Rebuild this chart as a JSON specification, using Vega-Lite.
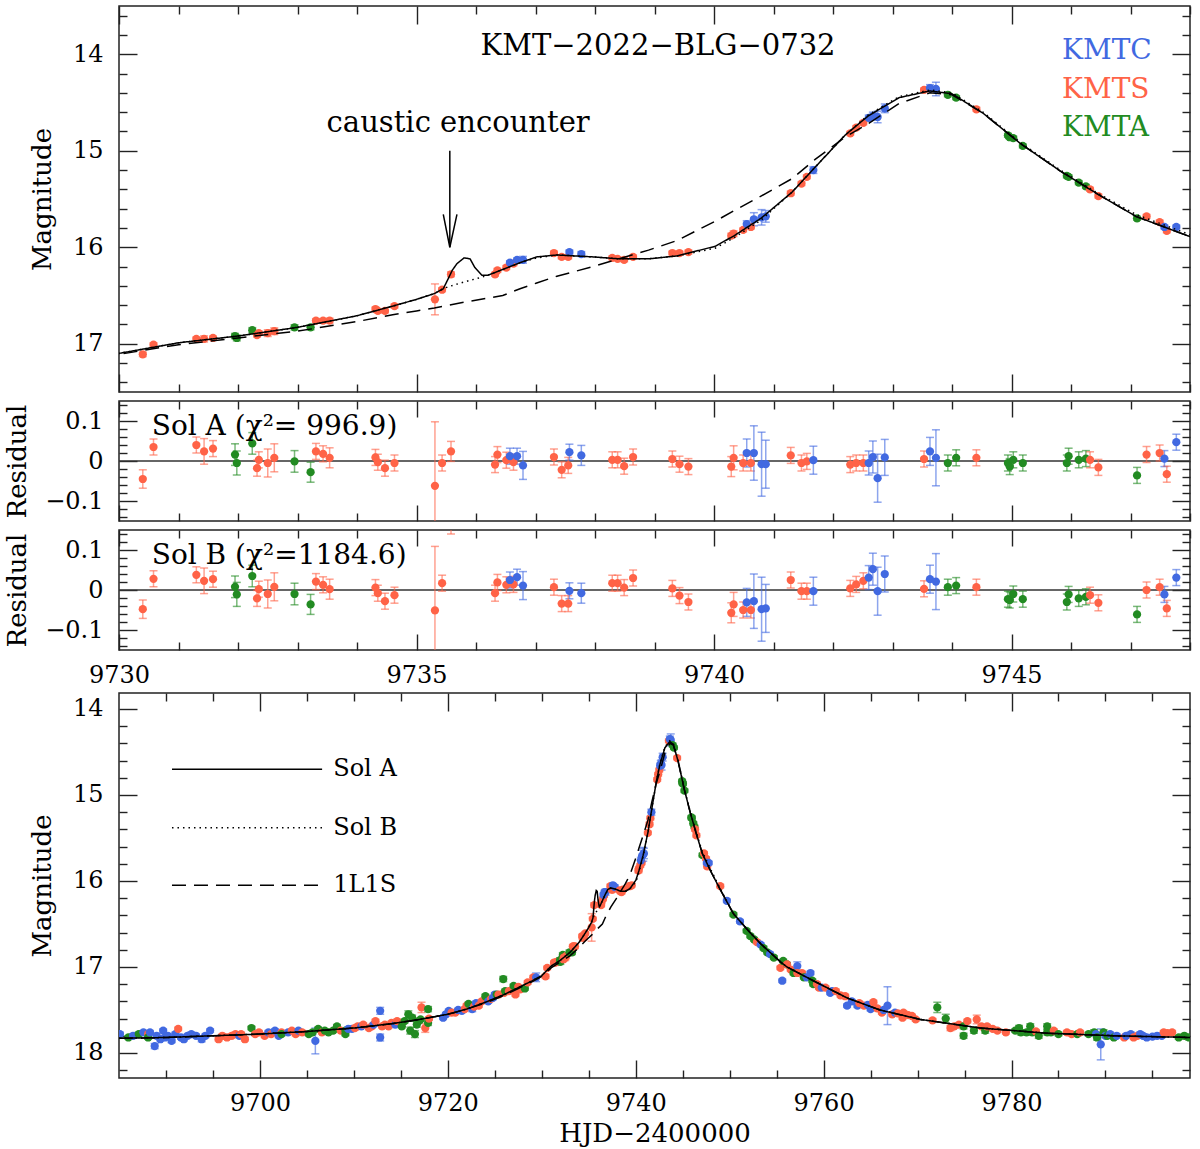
{
  "$schema": "https://vega.github.io/schema/vega-lite/v6.json",
  "background": "white",
  "padding": {"left": 3, "top": 2, "right": 10, "bottom": 0},
  "spacing": 9,
  "bounds": "flush",
  "datasets": {
    "obs": [
      {"t": 9730.40, "mag": 17.11, "err": 0.023, "tel": "KMTS", "rA": -0.045, "rB": -0.048},
      {"t": 9730.58, "mag": 17.01, "err": 0.02, "tel": "KMTS", "rA": 0.035, "rB": 0.028},
      {"t": 9731.30, "mag": 16.95, "err": 0.02, "tel": "KMTS", "rA": 0.040, "rB": 0.038},
      {"t": 9731.43, "mag": 16.95, "err": 0.032, "tel": "KMTS", "rA": 0.024, "rB": 0.023},
      {"t": 9731.58, "mag": 16.94, "err": 0.02, "tel": "KMTS", "rA": 0.031, "rB": 0.027},
      {"t": 9731.95, "mag": 16.92, "err": 0.027, "tel": "KMTA", "rA": 0.016, "rB": 0.008},
      {"t": 9731.98, "mag": 16.94, "err": 0.03, "tel": "KMTA", "rA": -0.005, "rB": -0.011},
      {"t": 9732.24, "mag": 16.86, "err": 0.027, "tel": "KMTA", "rA": 0.044, "rB": 0.035},
      {"t": 9732.32, "mag": 16.91, "err": 0.02, "tel": "KMTS", "rA": -0.018, "rB": -0.021},
      {"t": 9732.35, "mag": 16.89, "err": 0.02, "tel": "KMTS", "rA": 0.003, "rB": 0.002},
      {"t": 9732.50, "mag": 16.89, "err": 0.035, "tel": "KMTS", "rA": -0.005, "rB": -0.010},
      {"t": 9732.61, "mag": 16.87, "err": 0.035, "tel": "KMTS", "rA": 0.008, "rB": 0.008},
      {"t": 9732.95, "mag": 16.83, "err": 0.027, "tel": "KMTA", "rA": -0.001, "rB": -0.010},
      {"t": 9733.22, "mag": 16.83, "err": 0.025, "tel": "KMTA", "rA": -0.028, "rB": -0.036},
      {"t": 9733.31, "mag": 16.76, "err": 0.02, "tel": "KMTS", "rA": 0.024, "rB": 0.021},
      {"t": 9733.43, "mag": 16.76, "err": 0.02, "tel": "KMTS", "rA": 0.018, "rB": 0.013},
      {"t": 9733.54, "mag": 16.76, "err": 0.025, "tel": "KMTS", "rA": 0.008, "rB": 0.002},
      {"t": 9734.31, "mag": 16.64, "err": 0.02, "tel": "KMTS", "rA": 0.009, "rB": 0.006},
      {"t": 9734.35, "mag": 16.66, "err": 0.02, "tel": "KMTS", "rA": -0.003, "rB": -0.008},
      {"t": 9734.47, "mag": 16.66, "err": 0.02, "tel": "KMTS", "rA": -0.018, "rB": -0.028},
      {"t": 9734.63, "mag": 16.61, "err": 0.02, "tel": "KMTS", "rA": -0.005, "rB": -0.013},
      {"t": 9735.31, "mag": 16.54, "err": 0.16, "tel": "KMTS", "rA": -0.062, "rB": -0.051},
      {"t": 9735.43, "mag": 16.44, "err": 0.02, "tel": "KMTS", "rA": -0.005, "rB": 0.017},
      {"t": 9735.58, "mag": 16.28, "err": 0.025, "tel": "KMTS", "rA": 0.024, "rB": 0.165},
      {"t": 9736.32, "mag": 16.28, "err": 0.02, "tel": "KMTS", "rA": -0.009, "rB": -0.008},
      {"t": 9736.36, "mag": 16.24, "err": 0.02, "tel": "KMTS", "rA": 0.016, "rB": 0.019},
      {"t": 9736.51, "mag": 16.21, "err": 0.02, "tel": "KMTS", "rA": 0.002, "rB": 0.013},
      {"t": 9736.63, "mag": 16.17, "err": 0.02, "tel": "KMTS", "rA": -0.003, "rB": 0.014},
      {"t": 9736.57, "mag": 16.16, "err": 0.02, "tel": "KMTC", "rA": 0.012, "rB": 0.025},
      {"t": 9736.69, "mag": 16.13, "err": 0.02, "tel": "KMTC", "rA": 0.012, "rB": 0.032},
      {"t": 9736.79, "mag": 16.13, "err": 0.035, "tel": "KMTC", "rA": -0.011, "rB": 0.011},
      {"t": 9737.31, "mag": 16.06, "err": 0.02, "tel": "KMTS", "rA": 0.010, "rB": 0.007},
      {"t": 9737.44, "mag": 16.10, "err": 0.02, "tel": "KMTS", "rA": -0.022, "rB": -0.034},
      {"t": 9737.55, "mag": 16.10, "err": 0.02, "tel": "KMTS", "rA": -0.011, "rB": -0.034},
      {"t": 9737.57, "mag": 16.05, "err": 0.02, "tel": "KMTC", "rA": 0.022, "rB": -0.002},
      {"t": 9737.77, "mag": 16.07, "err": 0.025, "tel": "KMTC", "rA": 0.014, "rB": -0.008},
      {"t": 9738.29, "mag": 16.11, "err": 0.02, "tel": "KMTS", "rA": 0.003, "rB": 0.017},
      {"t": 9738.38, "mag": 16.12, "err": 0.02, "tel": "KMTS", "rA": 0.003, "rB": 0.017},
      {"t": 9738.49, "mag": 16.13, "err": 0.02, "tel": "KMTS", "rA": -0.013, "rB": 0.006},
      {"t": 9738.64, "mag": 16.10, "err": 0.02, "tel": "KMTS", "rA": 0.010, "rB": 0.030},
      {"t": 9739.30, "mag": 16.06, "err": 0.02, "tel": "KMTS", "rA": 0.005, "rB": 0.004},
      {"t": 9739.42, "mag": 16.06, "err": 0.02, "tel": "KMTS", "rA": -0.008, "rB": -0.014},
      {"t": 9739.57, "mag": 16.05, "err": 0.02, "tel": "KMTS", "rA": -0.014, "rB": -0.030},
      {"t": 9740.29, "mag": 15.88, "err": 0.025, "tel": "KMTS", "rA": -0.014, "rB": -0.057},
      {"t": 9740.33, "mag": 15.86, "err": 0.03, "tel": "KMTS", "rA": 0.008, "rB": -0.036},
      {"t": 9740.49, "mag": 15.82, "err": 0.02, "tel": "KMTS", "rA": -0.005, "rB": -0.050},
      {"t": 9740.62, "mag": 15.79, "err": 0.02, "tel": "KMTS", "rA": -0.005, "rB": -0.050},
      {"t": 9740.55, "mag": 15.76, "err": 0.035, "tel": "KMTC", "rA": 0.020, "rB": -0.031},
      {"t": 9740.67, "mag": 15.71, "err": 0.068, "tel": "KMTC", "rA": 0.020, "rB": -0.028},
      {"t": 9740.80, "mag": 15.69, "err": 0.08, "tel": "KMTC", "rA": -0.008, "rB": -0.048},
      {"t": 9740.87, "mag": 15.68, "err": 0.06, "tel": "KMTC", "rA": -0.008, "rB": -0.046},
      {"t": 9741.29, "mag": 15.44, "err": 0.02, "tel": "KMTS", "rA": 0.014, "rB": 0.025},
      {"t": 9741.47, "mag": 15.34, "err": 0.02, "tel": "KMTS", "rA": -0.005, "rB": -0.003},
      {"t": 9741.56, "mag": 15.27, "err": 0.02, "tel": "KMTS", "rA": -0.001, "rB": -0.003},
      {"t": 9741.67, "mag": 15.20, "err": 0.035, "tel": "KMTC", "rA": 0.002, "rB": -0.003},
      {"t": 9742.29, "mag": 14.82, "err": 0.02, "tel": "KMTS", "rA": -0.009, "rB": 0.004},
      {"t": 9742.39, "mag": 14.76, "err": 0.02, "tel": "KMTS", "rA": -0.005, "rB": 0.014},
      {"t": 9742.51, "mag": 14.71, "err": 0.02, "tel": "KMTS", "rA": -0.005, "rB": 0.023},
      {"t": 9742.60, "mag": 14.66, "err": 0.03, "tel": "KMTC", "rA": -0.005, "rB": 0.031},
      {"t": 9742.67, "mag": 14.64, "err": 0.04, "tel": "KMTC", "rA": 0.010, "rB": 0.052},
      {"t": 9742.75, "mag": 14.65, "err": 0.06, "tel": "KMTC", "rA": -0.043, "rB": -0.003},
      {"t": 9742.87, "mag": 14.56, "err": 0.045, "tel": "KMTC", "rA": 0.009, "rB": 0.040},
      {"t": 9743.53, "mag": 14.37, "err": 0.02, "tel": "KMTS", "rA": 0.005, "rB": 0.003},
      {"t": 9743.63, "mag": 14.35, "err": 0.035, "tel": "KMTC", "rA": 0.024, "rB": 0.027},
      {"t": 9743.73, "mag": 14.36, "err": 0.07, "tel": "KMTC", "rA": 0.008, "rB": 0.021},
      {"t": 9743.93, "mag": 14.42, "err": 0.02, "tel": "KMTA", "rA": -0.005, "rB": 0.007},
      {"t": 9744.07, "mag": 14.45, "err": 0.02, "tel": "KMTA", "rA": 0.008, "rB": 0.011},
      {"t": 9744.41, "mag": 14.57, "err": 0.02, "tel": "KMTS", "rA": 0.008, "rB": 0.007},
      {"t": 9744.94, "mag": 14.84, "err": 0.02, "tel": "KMTA", "rA": -0.005, "rB": -0.023},
      {"t": 9744.97, "mag": 14.86, "err": 0.02, "tel": "KMTA", "rA": -0.014, "rB": -0.025},
      {"t": 9745.03, "mag": 14.87, "err": 0.02, "tel": "KMTA", "rA": 0.003, "rB": -0.010},
      {"t": 9745.19, "mag": 14.95, "err": 0.02, "tel": "KMTA", "rA": -0.005, "rB": -0.023},
      {"t": 9745.93, "mag": 15.26, "err": 0.02, "tel": "KMTA", "rA": -0.005, "rB": -0.030},
      {"t": 9745.96, "mag": 15.27, "err": 0.02, "tel": "KMTA", "rA": 0.012, "rB": -0.011},
      {"t": 9746.13, "mag": 15.33, "err": 0.02, "tel": "KMTA", "rA": 0.003, "rB": -0.021},
      {"t": 9746.25, "mag": 15.37, "err": 0.02, "tel": "KMTA", "rA": 0.006, "rB": -0.017},
      {"t": 9746.32, "mag": 15.40, "err": 0.02, "tel": "KMTS", "rA": 0.003, "rB": -0.013},
      {"t": 9746.46, "mag": 15.47, "err": 0.02, "tel": "KMTS", "rA": -0.016, "rB": -0.032},
      {"t": 9747.11, "mag": 15.70, "err": 0.02, "tel": "KMTA", "rA": -0.036, "rB": -0.061},
      {"t": 9747.27, "mag": 15.68, "err": 0.02, "tel": "KMTS", "rA": 0.016, "rB": 0.000},
      {"t": 9747.49, "mag": 15.74, "err": 0.02, "tel": "KMTS", "rA": 0.020, "rB": 0.007},
      {"t": 9747.61, "mag": 15.83, "err": 0.02, "tel": "KMTS", "rA": -0.033, "rB": -0.046},
      {"t": 9747.57, "mag": 15.79, "err": 0.02, "tel": "KMTC", "rA": 0.006, "rB": -0.011},
      {"t": 9747.77, "mag": 15.79, "err": 0.02, "tel": "KMTC", "rA": 0.047, "rB": 0.031},
      {"t": 9685.1, "mag": 17.78, "err": 0.02, "tel": "KMTC"},
      {"t": 9686.0, "mag": 17.82, "err": 0.02, "tel": "KMTA"},
      {"t": 9686.5, "mag": 17.80, "err": 0.02, "tel": "KMTC"},
      {"t": 9687.1, "mag": 17.78, "err": 0.02, "tel": "KMTA"},
      {"t": 9687.6, "mag": 17.76, "err": 0.02, "tel": "KMTC"},
      {"t": 9688.1, "mag": 17.78, "err": 0.02, "tel": "KMTS"},
      {"t": 9688.1, "mag": 17.82, "err": 0.02, "tel": "KMTA"},
      {"t": 9688.3, "mag": 17.76, "err": 0.02, "tel": "KMTC"},
      {"t": 9688.8, "mag": 17.92, "err": 0.03, "tel": "KMTC"},
      {"t": 9689.0, "mag": 17.80, "err": 0.02, "tel": "KMTC"},
      {"t": 9689.4, "mag": 17.84, "err": 0.02, "tel": "KMTC"},
      {"t": 9689.7, "mag": 17.74, "err": 0.02, "tel": "KMTC"},
      {"t": 9689.9, "mag": 17.82, "err": 0.02, "tel": "KMTC"},
      {"t": 9690.2, "mag": 17.80, "err": 0.02, "tel": "KMTC"},
      {"t": 9690.6, "mag": 17.86, "err": 0.02, "tel": "KMTC"},
      {"t": 9691.0, "mag": 17.78, "err": 0.02, "tel": "KMTC"},
      {"t": 9691.3, "mag": 17.72, "err": 0.02, "tel": "KMTS"},
      {"t": 9691.6, "mag": 17.82, "err": 0.02, "tel": "KMTC"},
      {"t": 9691.9, "mag": 17.84, "err": 0.02, "tel": "KMTC"},
      {"t": 9692.3, "mag": 17.80, "err": 0.02, "tel": "KMTC"},
      {"t": 9692.7, "mag": 17.78, "err": 0.02, "tel": "KMTC"},
      {"t": 9693.2, "mag": 17.80, "err": 0.02, "tel": "KMTC"},
      {"t": 9693.8, "mag": 17.84, "err": 0.03, "tel": "KMTC"},
      {"t": 9694.2, "mag": 17.80, "err": 0.02, "tel": "KMTC"},
      {"t": 9694.7, "mag": 17.74, "err": 0.02, "tel": "KMTC"},
      {"t": 9695.6, "mag": 17.84, "err": 0.02, "tel": "KMTS"},
      {"t": 9696.0, "mag": 17.80, "err": 0.02, "tel": "KMTS"},
      {"t": 9696.5, "mag": 17.82, "err": 0.02, "tel": "KMTS"},
      {"t": 9697.0, "mag": 17.80, "err": 0.02, "tel": "KMTS"},
      {"t": 9697.4, "mag": 17.78, "err": 0.02, "tel": "KMTS"},
      {"t": 9697.8, "mag": 17.80, "err": 0.02, "tel": "KMTC"},
      {"t": 9698.0, "mag": 17.78, "err": 0.02, "tel": "KMTS"},
      {"t": 9698.4, "mag": 17.84, "err": 0.02, "tel": "KMTS"},
      {"t": 9699.1, "mag": 17.71, "err": 0.02, "tel": "KMTA"},
      {"t": 9699.5, "mag": 17.78, "err": 0.02, "tel": "KMTS"},
      {"t": 9699.9, "mag": 17.76, "err": 0.02, "tel": "KMTS"},
      {"t": 9700.5, "mag": 17.80, "err": 0.02, "tel": "KMTS"},
      {"t": 9700.9, "mag": 17.76, "err": 0.02, "tel": "KMTC"},
      {"t": 9701.2, "mag": 17.78, "err": 0.02, "tel": "KMTS"},
      {"t": 9701.6, "mag": 17.74, "err": 0.02, "tel": "KMTC"},
      {"t": 9702.0, "mag": 17.80, "err": 0.02, "tel": "KMTC"},
      {"t": 9702.3, "mag": 17.76, "err": 0.02, "tel": "KMTS"},
      {"t": 9702.3, "mag": 17.78, "err": 0.02, "tel": "KMTA"},
      {"t": 9703.0, "mag": 17.76, "err": 0.02, "tel": "KMTC"},
      {"t": 9703.4, "mag": 17.74, "err": 0.02, "tel": "KMTS"},
      {"t": 9703.8, "mag": 17.78, "err": 0.02, "tel": "KMTS"},
      {"t": 9704.1, "mag": 17.74, "err": 0.02, "tel": "KMTC"},
      {"t": 9704.5, "mag": 17.76, "err": 0.02, "tel": "KMTS"},
      {"t": 9705.2, "mag": 17.78, "err": 0.02, "tel": "KMTA"},
      {"t": 9705.6, "mag": 17.76, "err": 0.02, "tel": "KMTA"},
      {"t": 9705.9, "mag": 17.86, "err": 0.15, "tel": "KMTC"},
      {"t": 9706.2, "mag": 17.72, "err": 0.02, "tel": "KMTA"},
      {"t": 9706.6, "mag": 17.76, "err": 0.02, "tel": "KMTS"},
      {"t": 9706.9, "mag": 17.74, "err": 0.02, "tel": "KMTA"},
      {"t": 9707.3, "mag": 17.76, "err": 0.02, "tel": "KMTA"},
      {"t": 9707.8, "mag": 17.74, "err": 0.02, "tel": "KMTA"},
      {"t": 9708.2, "mag": 17.69, "err": 0.02, "tel": "KMTA"},
      {"t": 9708.6, "mag": 17.74, "err": 0.02, "tel": "KMTS"},
      {"t": 9709.1, "mag": 17.74, "err": 0.02, "tel": "KMTA"},
      {"t": 9709.1, "mag": 17.78, "err": 0.02, "tel": "KMTA"},
      {"t": 9709.4, "mag": 17.72, "err": 0.02, "tel": "KMTC"},
      {"t": 9709.8, "mag": 17.72, "err": 0.02, "tel": "KMTC"},
      {"t": 9710.1, "mag": 17.71, "err": 0.02, "tel": "KMTS"},
      {"t": 9710.4, "mag": 17.69, "err": 0.02, "tel": "KMTS"},
      {"t": 9710.8, "mag": 17.69, "err": 0.02, "tel": "KMTC"},
      {"t": 9711.0, "mag": 17.67, "err": 0.02, "tel": "KMTS"},
      {"t": 9711.6, "mag": 17.71, "err": 0.02, "tel": "KMTS"},
      {"t": 9711.9, "mag": 17.69, "err": 0.02, "tel": "KMTS"},
      {"t": 9712.1, "mag": 17.67, "err": 0.02, "tel": "KMTC"},
      {"t": 9712.3, "mag": 17.63, "err": 0.02, "tel": "KMTS"},
      {"t": 9712.8, "mag": 17.51, "err": 0.04, "tel": "KMTC"},
      {"t": 9712.8, "mag": 17.82, "err": 0.04, "tel": "KMTC"},
      {"t": 9713.0, "mag": 17.69, "err": 0.02, "tel": "KMTS"},
      {"t": 9713.3, "mag": 17.67, "err": 0.02, "tel": "KMTS"},
      {"t": 9713.7, "mag": 17.69, "err": 0.02, "tel": "KMTS"},
      {"t": 9714.0, "mag": 17.65, "err": 0.02, "tel": "KMTS"},
      {"t": 9714.4, "mag": 17.67, "err": 0.02, "tel": "KMTC"},
      {"t": 9714.6, "mag": 17.63, "err": 0.02, "tel": "KMTS"},
      {"t": 9715.1, "mag": 17.69, "err": 0.02, "tel": "KMTA"},
      {"t": 9715.4, "mag": 17.63, "err": 0.02, "tel": "KMTA"},
      {"t": 9715.8, "mag": 17.55, "err": 0.04, "tel": "KMTA"},
      {"t": 9716.0, "mag": 17.74, "err": 0.04, "tel": "KMTA"},
      {"t": 9716.2, "mag": 17.59, "err": 0.03, "tel": "KMTA"},
      {"t": 9716.5, "mag": 17.78, "err": 0.04, "tel": "KMTA"},
      {"t": 9716.7, "mag": 17.67, "err": 0.03, "tel": "KMTA"},
      {"t": 9716.9, "mag": 17.63, "err": 0.02, "tel": "KMTA"},
      {"t": 9717.1, "mag": 17.61, "err": 0.02, "tel": "KMTA"},
      {"t": 9717.2, "mag": 17.47, "err": 0.06, "tel": "KMTS"},
      {"t": 9717.6, "mag": 17.71, "err": 0.05, "tel": "KMTS"},
      {"t": 9717.9, "mag": 17.49, "err": 0.03, "tel": "KMTA"},
      {"t": 9717.9, "mag": 17.65, "err": 0.03, "tel": "KMTA"},
      {"t": 9718.0, "mag": 17.60, "err": 0.02, "tel": "KMTS"},
      {"t": 9719.5, "mag": 17.59, "err": 0.02, "tel": "KMTC"},
      {"t": 9719.8, "mag": 17.55, "err": 0.02, "tel": "KMTC"},
      {"t": 9720.1, "mag": 17.51, "err": 0.02, "tel": "KMTC"},
      {"t": 9720.4, "mag": 17.53, "err": 0.02, "tel": "KMTS"},
      {"t": 9720.8, "mag": 17.53, "err": 0.02, "tel": "KMTS"},
      {"t": 9721.1, "mag": 17.50, "err": 0.02, "tel": "KMTC"},
      {"t": 9721.5, "mag": 17.51, "err": 0.02, "tel": "KMTC"},
      {"t": 9721.8, "mag": 17.49, "err": 0.02, "tel": "KMTS"},
      {"t": 9722.0, "mag": 17.45, "err": 0.02, "tel": "KMTS"},
      {"t": 9722.2, "mag": 17.43, "err": 0.02, "tel": "KMTA"},
      {"t": 9722.6, "mag": 17.49, "err": 0.03, "tel": "KMTC"},
      {"t": 9722.8, "mag": 17.46, "err": 0.02, "tel": "KMTS"},
      {"t": 9723.0, "mag": 17.42, "err": 0.02, "tel": "KMTC"},
      {"t": 9723.3, "mag": 17.45, "err": 0.02, "tel": "KMTS"},
      {"t": 9723.6, "mag": 17.40, "err": 0.02, "tel": "KMTS"},
      {"t": 9724.0, "mag": 17.34, "err": 0.02, "tel": "KMTA"},
      {"t": 9724.3, "mag": 17.40, "err": 0.02, "tel": "KMTC"},
      {"t": 9724.6, "mag": 17.37, "err": 0.02, "tel": "KMTS"},
      {"t": 9724.8, "mag": 17.36, "err": 0.02, "tel": "KMTC"},
      {"t": 9725.0, "mag": 17.32, "err": 0.02, "tel": "KMTC"},
      {"t": 9725.2, "mag": 17.32, "err": 0.02, "tel": "KMTA"},
      {"t": 9725.4, "mag": 17.32, "err": 0.02, "tel": "KMTS"},
      {"t": 9725.9, "mag": 17.14, "err": 0.03, "tel": "KMTA"},
      {"t": 9726.0, "mag": 17.30, "err": 0.02, "tel": "KMTS"},
      {"t": 9726.1, "mag": 17.28, "err": 0.02, "tel": "KMTA"},
      {"t": 9726.5, "mag": 17.28, "err": 0.02, "tel": "KMTS"},
      {"t": 9726.8, "mag": 17.27, "err": 0.02, "tel": "KMTS"},
      {"t": 9727.0, "mag": 17.22, "err": 0.02, "tel": "KMTA"},
      {"t": 9727.2, "mag": 17.32, "err": 0.02, "tel": "KMTS"},
      {"t": 9727.5, "mag": 17.23, "err": 0.02, "tel": "KMTS"},
      {"t": 9727.7, "mag": 17.26, "err": 0.02, "tel": "KMTS"},
      {"t": 9728.2, "mag": 17.25, "err": 0.02, "tel": "KMTA"},
      {"t": 9728.5, "mag": 17.18, "err": 0.02, "tel": "KMTS"},
      {"t": 9729.1, "mag": 17.12, "err": 0.02, "tel": "KMTS"},
      {"t": 9729.4, "mag": 17.12, "err": 0.05, "tel": "KMTC"},
      {"t": 9749.0, "mag": 16.06, "err": 0.02, "tel": "KMTS"},
      {"t": 9749.7, "mag": 16.23, "err": 0.02, "tel": "KMTC"},
      {"t": 9750.4, "mag": 16.39, "err": 0.02, "tel": "KMTA"},
      {"t": 9751.1, "mag": 16.47, "err": 0.02, "tel": "KMTC"},
      {"t": 9751.8, "mag": 16.58, "err": 0.02, "tel": "KMTA"},
      {"t": 9752.2, "mag": 16.64, "err": 0.02, "tel": "KMTA"},
      {"t": 9752.6, "mag": 16.68, "err": 0.02, "tel": "KMTA"},
      {"t": 9752.9, "mag": 16.71, "err": 0.02, "tel": "KMTS"},
      {"t": 9753.3, "mag": 16.74, "err": 0.02, "tel": "KMTC"},
      {"t": 9753.6, "mag": 16.78, "err": 0.02, "tel": "KMTA"},
      {"t": 9754.0, "mag": 16.83, "err": 0.02, "tel": "KMTA"},
      {"t": 9754.3, "mag": 16.85, "err": 0.02, "tel": "KMTC"},
      {"t": 9754.7, "mag": 16.89, "err": 0.02, "tel": "KMTA"},
      {"t": 9755.4, "mag": 17.01, "err": 0.02, "tel": "KMTS"},
      {"t": 9755.6, "mag": 17.16, "err": 0.02, "tel": "KMTC"},
      {"t": 9755.7, "mag": 16.93, "err": 0.02, "tel": "KMTA"},
      {"t": 9756.1, "mag": 16.97, "err": 0.02, "tel": "KMTA"},
      {"t": 9756.1, "mag": 16.97, "err": 0.02, "tel": "KMTS"},
      {"t": 9756.5, "mag": 17.03, "err": 0.02, "tel": "KMTS"},
      {"t": 9756.8, "mag": 17.07, "err": 0.02, "tel": "KMTA"},
      {"t": 9757.2, "mag": 16.99, "err": 0.05, "tel": "KMTC"},
      {"t": 9757.2, "mag": 17.07, "err": 0.02, "tel": "KMTS"},
      {"t": 9757.7, "mag": 17.07, "err": 0.02, "tel": "KMTS"},
      {"t": 9757.9, "mag": 17.12, "err": 0.02, "tel": "KMTA"},
      {"t": 9758.2, "mag": 17.12, "err": 0.02, "tel": "KMTC"},
      {"t": 9758.6, "mag": 17.07, "err": 0.02, "tel": "KMTC"},
      {"t": 9758.8, "mag": 17.16, "err": 0.02, "tel": "KMTA"},
      {"t": 9758.9, "mag": 17.20, "err": 0.02, "tel": "KMTA"},
      {"t": 9759.3, "mag": 17.20, "err": 0.02, "tel": "KMTS"},
      {"t": 9759.5, "mag": 17.24, "err": 0.02, "tel": "KMTS"},
      {"t": 9759.8, "mag": 17.24, "err": 0.02, "tel": "KMTC"},
      {"t": 9760.2, "mag": 17.24, "err": 0.02, "tel": "KMTS"},
      {"t": 9760.7, "mag": 17.30, "err": 0.02, "tel": "KMTC"},
      {"t": 9760.9, "mag": 17.28, "err": 0.02, "tel": "KMTC"},
      {"t": 9761.3, "mag": 17.28, "err": 0.02, "tel": "KMTS"},
      {"t": 9761.8, "mag": 17.33, "err": 0.02, "tel": "KMTS"},
      {"t": 9762.3, "mag": 17.34, "err": 0.02, "tel": "KMTS"},
      {"t": 9762.5, "mag": 17.45, "err": 0.02, "tel": "KMTC"},
      {"t": 9763.0, "mag": 17.40, "err": 0.02, "tel": "KMTC"},
      {"t": 9763.6, "mag": 17.45, "err": 0.02, "tel": "KMTC"},
      {"t": 9763.8, "mag": 17.42, "err": 0.02, "tel": "KMTS"},
      {"t": 9764.3, "mag": 17.45, "err": 0.02, "tel": "KMTS"},
      {"t": 9764.7, "mag": 17.44, "err": 0.02, "tel": "KMTC"},
      {"t": 9765.0, "mag": 17.49, "err": 0.02, "tel": "KMTC"},
      {"t": 9765.3, "mag": 17.41, "err": 0.02, "tel": "KMTS"},
      {"t": 9765.7, "mag": 17.48, "err": 0.02, "tel": "KMTS"},
      {"t": 9766.2, "mag": 17.53, "err": 0.02, "tel": "KMTS"},
      {"t": 9766.4, "mag": 17.50, "err": 0.02, "tel": "KMTC"},
      {"t": 9766.8, "mag": 17.45, "err": 0.22, "tel": "KMTC"},
      {"t": 9767.3, "mag": 17.55, "err": 0.02, "tel": "KMTS"},
      {"t": 9767.6, "mag": 17.53, "err": 0.02, "tel": "KMTC"},
      {"t": 9767.9, "mag": 17.54, "err": 0.02, "tel": "KMTS"},
      {"t": 9768.4, "mag": 17.59, "err": 0.02, "tel": "KMTS"},
      {"t": 9768.5, "mag": 17.53, "err": 0.02, "tel": "KMTS"},
      {"t": 9769.0, "mag": 17.56, "err": 0.02, "tel": "KMTS"},
      {"t": 9769.4, "mag": 17.57, "err": 0.02, "tel": "KMTS"},
      {"t": 9769.8, "mag": 17.61, "err": 0.02, "tel": "KMTS"},
      {"t": 9771.6, "mag": 17.62, "err": 0.02, "tel": "KMTS"},
      {"t": 9772.1, "mag": 17.47, "err": 0.06, "tel": "KMTA"},
      {"t": 9773.0, "mag": 17.60, "err": 0.05, "tel": "KMTA"},
      {"t": 9773.5, "mag": 17.71, "err": 0.03, "tel": "KMTS"},
      {"t": 9773.9, "mag": 17.69, "err": 0.02, "tel": "KMTS"},
      {"t": 9774.4, "mag": 17.67, "err": 0.02, "tel": "KMTS"},
      {"t": 9774.9, "mag": 17.69, "err": 0.03, "tel": "KMTA"},
      {"t": 9774.9, "mag": 17.80, "err": 0.03, "tel": "KMTA"},
      {"t": 9775.3, "mag": 17.63, "err": 0.02, "tel": "KMTS"},
      {"t": 9776.0, "mag": 17.74, "err": 0.03, "tel": "KMTA"},
      {"t": 9776.3, "mag": 17.61, "err": 0.05, "tel": "KMTS"},
      {"t": 9776.8, "mag": 17.69, "err": 0.02, "tel": "KMTS"},
      {"t": 9777.2, "mag": 17.74, "err": 0.03, "tel": "KMTA"},
      {"t": 9777.4, "mag": 17.69, "err": 0.02, "tel": "KMTS"},
      {"t": 9778.0, "mag": 17.72, "err": 0.02, "tel": "KMTS"},
      {"t": 9778.5, "mag": 17.74, "err": 0.02, "tel": "KMTS"},
      {"t": 9779.4, "mag": 17.76, "err": 0.02, "tel": "KMTS"},
      {"t": 9780.4, "mag": 17.74, "err": 0.02, "tel": "KMTA"},
      {"t": 9780.8, "mag": 17.71, "err": 0.03, "tel": "KMTA"},
      {"t": 9781.0, "mag": 17.76, "err": 0.03, "tel": "KMTA"},
      {"t": 9781.6, "mag": 17.76, "err": 0.02, "tel": "KMTA"},
      {"t": 9782.0, "mag": 17.69, "err": 0.03, "tel": "KMTA"},
      {"t": 9782.2, "mag": 17.76, "err": 0.03, "tel": "KMTA"},
      {"t": 9782.6, "mag": 17.75, "err": 0.02, "tel": "KMTS"},
      {"t": 9782.9, "mag": 17.80, "err": 0.03, "tel": "KMTA"},
      {"t": 9783.8, "mag": 17.69, "err": 0.03, "tel": "KMTA"},
      {"t": 9783.8, "mag": 17.76, "err": 0.03, "tel": "KMTA"},
      {"t": 9784.2, "mag": 17.76, "err": 0.02, "tel": "KMTA"},
      {"t": 9784.5, "mag": 17.74, "err": 0.02, "tel": "KMTS"},
      {"t": 9785.0, "mag": 17.78, "err": 0.02, "tel": "KMTA"},
      {"t": 9785.9, "mag": 17.76, "err": 0.02, "tel": "KMTS"},
      {"t": 9786.4, "mag": 17.78, "err": 0.02, "tel": "KMTS"},
      {"t": 9787.0, "mag": 17.78, "err": 0.02, "tel": "KMTA"},
      {"t": 9787.3, "mag": 17.76, "err": 0.02, "tel": "KMTS"},
      {"t": 9788.2, "mag": 17.78, "err": 0.02, "tel": "KMTA"},
      {"t": 9788.8, "mag": 17.76, "err": 0.03, "tel": "KMTA"},
      {"t": 9789.0, "mag": 17.78, "err": 0.02, "tel": "KMTC"},
      {"t": 9789.1, "mag": 17.82, "err": 0.03, "tel": "KMTA"},
      {"t": 9789.5, "mag": 17.90, "err": 0.18, "tel": "KMTC"},
      {"t": 9789.8, "mag": 17.76, "err": 0.03, "tel": "KMTA"},
      {"t": 9790.0, "mag": 17.80, "err": 0.02, "tel": "KMTC"},
      {"t": 9790.2, "mag": 17.80, "err": 0.02, "tel": "KMTA"},
      {"t": 9790.5, "mag": 17.78, "err": 0.02, "tel": "KMTC"},
      {"t": 9790.9, "mag": 17.82, "err": 0.02, "tel": "KMTA"},
      {"t": 9791.2, "mag": 17.80, "err": 0.02, "tel": "KMTC"},
      {"t": 9792.0, "mag": 17.82, "err": 0.02, "tel": "KMTS"},
      {"t": 9792.2, "mag": 17.80, "err": 0.02, "tel": "KMTC"},
      {"t": 9792.7, "mag": 17.78, "err": 0.02, "tel": "KMTC"},
      {"t": 9793.0, "mag": 17.82, "err": 0.02, "tel": "KMTS"},
      {"t": 9793.4, "mag": 17.80, "err": 0.02, "tel": "KMTS"},
      {"t": 9793.7, "mag": 17.78, "err": 0.02, "tel": "KMTC"},
      {"t": 9794.0, "mag": 17.80, "err": 0.02, "tel": "KMTC"},
      {"t": 9794.4, "mag": 17.82, "err": 0.02, "tel": "KMTC"},
      {"t": 9795.0, "mag": 17.81, "err": 0.02, "tel": "KMTC"},
      {"t": 9795.5, "mag": 17.80, "err": 0.02, "tel": "KMTC"},
      {"t": 9796.0, "mag": 17.80, "err": 0.02, "tel": "KMTC"},
      {"t": 9796.2, "mag": 17.76, "err": 0.02, "tel": "KMTS"},
      {"t": 9796.6, "mag": 17.77, "err": 0.02, "tel": "KMTS"},
      {"t": 9797.1, "mag": 17.76, "err": 0.02, "tel": "KMTS"},
      {"t": 9797.8, "mag": 17.82, "err": 0.02, "tel": "KMTA"},
      {"t": 9798.4, "mag": 17.80, "err": 0.02, "tel": "KMTA"},
      {"t": 9798.9, "mag": 17.82, "err": 0.03, "tel": "KMTA"}
    ],
    "models": [
      {"t": 9685, "a": 17.83, "b": 17.83, "p": 17.83},
      {"t": 9690, "a": 17.82, "b": 17.82, "p": 17.82},
      {"t": 9695, "a": 17.80, "b": 17.80, "p": 17.80},
      {"t": 9700, "a": 17.78, "b": 17.78, "p": 17.78},
      {"t": 9705, "a": 17.75, "b": 17.75, "p": 17.75},
      {"t": 9710, "a": 17.71, "b": 17.71, "p": 17.71},
      {"t": 9714, "a": 17.66, "b": 17.66, "p": 17.66},
      {"t": 9717, "a": 17.61, "b": 17.61, "p": 17.61},
      {"t": 9720, "a": 17.55, "b": 17.55, "p": 17.55},
      {"t": 9722, "a": 17.49, "b": 17.49, "p": 17.49},
      {"t": 9724, "a": 17.41, "b": 17.41, "p": 17.42},
      {"t": 9726, "a": 17.32, "b": 17.32, "p": 17.33},
      {"t": 9727.5, "a": 17.24, "b": 17.24, "p": 17.25},
      {"t": 9729, "a": 17.16, "b": 17.16, "p": 17.17},
      {"t": 9730, "a": 17.10, "b": 17.10, "p": 17.11},
      {"t": 9731, "a": 16.99, "b": 16.99, "p": 17.01},
      {"t": 9732, "a": 16.92, "b": 16.92, "p": 16.94},
      {"t": 9733, "a": 16.83, "b": 16.83, "p": 16.87},
      {"t": 9734, "a": 16.71, "b": 16.71, "p": 16.77},
      {"t": 9734.6, "a": 16.61, "b": 16.61, "p": 16.70},
      {"t": 9735, "a": 16.54, "b": 16.54, "p": 16.66},
      {"t": 9735.3, "a": 16.48, "b": 16.48, "p": 16.63},
      {"t": 9735.45, "a": 16.43, "b": 16.43},
      {"t": 9735.53, "a": 16.33, "b": 16.41},
      {"t": 9735.6, "a": 16.24},
      {"t": 9735.68, "a": 16.17},
      {"t": 9735.8, "a": 16.11, "b": 16.36, "p": 16.57},
      {"t": 9735.9, "a": 16.12},
      {"t": 9735.98, "a": 16.21, "b": 16.33},
      {"t": 9736.1, "a": 16.29, "b": 16.31},
      {"t": 9736.2, "a": 16.29, "b": 16.29},
      {"t": 9736.45, "a": 16.23, "b": 16.23, "p": 16.50},
      {"t": 9736.74, "a": 16.16, "b": 16.16, "p": 16.43},
      {"t": 9737.02, "a": 16.10, "b": 16.11, "p": 16.37},
      {"t": 9737.36, "a": 16.08, "b": 16.08, "p": 16.30},
      {"t": 9737.97, "a": 16.10, "b": 16.10, "p": 16.20},
      {"t": 9738.4, "a": 16.12, "b": 16.12, "p": 16.12},
      {"t": 9738.9, "a": 16.12, "b": 16.12, "p": 16.03},
      {"t": 9739.38, "a": 16.09, "b": 16.09, "p": 15.93},
      {"t": 9740.02, "a": 15.99, "b": 16.01, "p": 15.73},
      {"t": 9740.34, "a": 15.88, "b": 15.90, "p": 15.62},
      {"t": 9740.79, "a": 15.70, "b": 15.72, "p": 15.47},
      {"t": 9741.31, "a": 15.43, "b": 15.43, "p": 15.29},
      {"t": 9741.7, "a": 15.17, "b": 15.17, "p": 15.09},
      {"t": 9742.2, "a": 14.84, "b": 14.84, "p": 14.86},
      {"t": 9742.59, "a": 14.64, "b": 14.63, "p": 14.72},
      {"t": 9743.11, "a": 14.45, "b": 14.44, "p": 14.51},
      {"t": 9743.63, "a": 14.38, "b": 14.37, "p": 14.40},
      {"t": 9744.0, "a": 14.41, "b": 14.40, "p": 14.42},
      {"t": 9744.52, "a": 14.61, "b": 14.60, "p": 14.61},
      {"t": 9745.16, "a": 14.93, "b": 14.92, "p": 14.93},
      {"t": 9745.82, "a": 15.21, "b": 15.20, "p": 15.21},
      {"t": 9746.45, "a": 15.45, "b": 15.44, "p": 15.45},
      {"t": 9747.09, "a": 15.68, "b": 15.66, "p": 15.68},
      {"t": 9748.0, "a": 15.89, "b": 15.87, "p": 15.89},
      {"t": 9749, "a": 16.10, "b": 16.09, "p": 16.10},
      {"t": 9750.4, "a": 16.38, "b": 16.38, "p": 16.38},
      {"t": 9752, "a": 16.58, "b": 16.58, "p": 16.58},
      {"t": 9753.3, "a": 16.73, "b": 16.73, "p": 16.73},
      {"t": 9755.4, "a": 16.94, "b": 16.94, "p": 16.94},
      {"t": 9756.1, "a": 17.00, "b": 17.00, "p": 17.00},
      {"t": 9758.9, "a": 17.16, "b": 17.16, "p": 17.16},
      {"t": 9762.5, "a": 17.36, "b": 17.36, "p": 17.36},
      {"t": 9766, "a": 17.50, "b": 17.50, "p": 17.50},
      {"t": 9770.3, "a": 17.61, "b": 17.61, "p": 17.61},
      {"t": 9776.7, "a": 17.71, "b": 17.71, "p": 17.71},
      {"t": 9783.8, "a": 17.77, "b": 17.77, "p": 17.77},
      {"t": 9790.9, "a": 17.80, "b": 17.80, "p": 17.80},
      {"t": 9799, "a": 17.82, "b": 17.82, "p": 17.82}
    ]
  },
  "vconcat": [
    {
      "width": 1071,
      "height": 386,
      "layer": [
        {
          "data": {"name": "obs"},
          "transform": [{"filter": "datum.t >= 9730 && datum.t <= 9748"}],
          "mark": {"type": "errorbar", "ticks": {"size": 8}, "thickness": 1.5, "clip": true},
          "encoding": {
            "x": {"field": "t", "type": "quantitative", "scale": {"domain": [9730, 9748], "nice": false, "zero": false}, "axis": null},
            "y": {"field": "mag", "type": "quantitative", "scale": {"domain": [13.5, 17.5], "reverse": true, "nice": false, "zero": false}, "axis": null},
            "yError": {"field": "err"},
            "color": {"field": "tel", "type": "nominal", "scale": {"domain": ["KMTC", "KMTS", "KMTA"], "range": ["#4169e1", "#ff6347", "#228b22"]}, "legend": null},
            "opacity": {"value": 0.6}
          }
        },
        {
          "data": {"name": "obs"},
          "transform": [{"filter": "datum.t >= 9730 && datum.t <= 9748"}],
          "mark": {"type": "circle", "size": 68, "opacity": 1, "clip": true},
          "encoding": {
            "x": {"field": "t", "type": "quantitative", "scale": {"domain": [9730, 9748], "nice": false, "zero": false},
              "axis": {"orient": "bottom", "title": null, "labels": false, "values": [9730, 9731, 9732, 9733, 9734, 9735, 9736, 9737, 9738, 9739, 9740, 9741, 9742, 9743, 9744, 9745, 9746, 9747, 9748],
                "tickSize": {"condition": {"test": "datum.value % 5 === 0", "value": -18}, "value": -8}}},
            "y": {"field": "mag", "type": "quantitative", "scale": {"domain": [13.5, 17.5], "reverse": true, "nice": false, "zero": false},
              "axis": {"orient": "left", "title": "Magnitude", "titlePadding": 17, "format": "~g", "labelPadding": 34,
                "values": [13.6, 13.8, 14, 14.2, 14.4, 14.6, 14.8, 15, 15.2, 15.4, 15.6, 15.8, 16, 16.2, 16.4, 16.6, 16.8, 17, 17.2, 17.4],
                "labelExpr": "abs(datum.value - round(datum.value)) < 0.01 ? datum.label : ''",
                "tickSize": {"condition": {"test": "abs(datum.value - round(datum.value)) < 0.01", "value": -18}, "value": -8}}},
            "color": {"field": "tel", "type": "nominal", "legend": null}
          }
        },
        {
          "data": {"name": "models"},
          "transform": [{"fold": ["a", "b", "p"], "as": ["model", "mag"]}, {"filter": "isValid(datum.mag)"}],
          "mark": {"type": "line", "color": "black", "strokeWidth": 1.5, "clip": true},
          "encoding": {
            "x": {"field": "t", "type": "quantitative", "scale": {"domain": [9730, 9748], "nice": false, "zero": false},
              "axis": {"orient": "top", "title": null, "labels": false, "values": [9730, 9731, 9732, 9733, 9734, 9735, 9736, 9737, 9738, 9739, 9740, 9741, 9742, 9743, 9744, 9745, 9746, 9747, 9748],
                "tickSize": {"condition": {"test": "datum.value % 5 === 0", "value": -18}, "value": -8}}},
            "y": {"field": "mag", "type": "quantitative", "scale": {"domain": [13.5, 17.5], "reverse": true, "nice": false, "zero": false},
              "axis": {"orient": "right", "title": null, "labels": false,
                "values": [13.6, 13.8, 14, 14.2, 14.4, 14.6, 14.8, 15, 15.2, 15.4, 15.6, 15.8, 16, 16.2, 16.4, 16.6, 16.8, 17, 17.2, 17.4],
                "tickSize": {"condition": {"test": "abs(datum.value - round(datum.value)) < 0.01", "value": -18}, "value": -8}}},
            "strokeDash": {"field": "model", "type": "nominal", "scale": {"domain": ["a", "b", "p"], "range": [[1, 0], [1.5, 4], [14, 8]]}, "legend": null}
          }
        },
        {
          "data": {"values": [
            {"t": 9735.56, "mag": 15.0, "part": "shaft"},
            {"t": 9735.56, "mag": 16.0, "part": "shaft"},
            {"t": 9735.45, "mag": 15.66, "part": "head"},
            {"t": 9735.56, "mag": 16.0, "part": "head"},
            {"t": 9735.68, "mag": 15.66, "part": "head"}
          ]},
          "mark": {"type": "line", "color": "black", "strokeWidth": 1.5},
          "encoding": {
            "x": {"field": "t", "type": "quantitative", "scale": {"domain": [9730, 9748], "nice": false, "zero": false}, "axis": null},
            "y": {"field": "mag", "type": "quantitative", "scale": {"domain": [13.5, 17.5], "reverse": true, "nice": false, "zero": false}, "axis": null},
            "detail": {"field": "part"}
          }
        },
        {
          "data": {"values": [
            {"t": 9739.06, "mag": 13.91, "label": "KMT−2022−BLG−0732"},
            {"t": 9735.7, "mag": 14.71, "label": "caustic encounter"}
          ]},
          "mark": {"type": "text", "font": "DejaVu Serif", "fontSize": 29, "color": "black", "baseline": "middle"},
          "encoding": {
            "x": {"field": "t", "type": "quantitative", "scale": {"domain": [9730, 9748], "nice": false, "zero": false}, "axis": null},
            "y": {"field": "mag", "type": "quantitative", "scale": {"domain": [13.5, 17.5], "reverse": true, "nice": false, "zero": false}, "axis": null},
            "text": {"field": "label"}
          }
        },
        {
          "data": {"values": [
            {"t": 9745.85, "mag": 13.97, "tel": "KMTC"},
            {"t": 9745.85, "mag": 14.37, "tel": "KMTS"},
            {"t": 9745.85, "mag": 14.76, "tel": "KMTA"}
          ]},
          "mark": {"type": "text", "font": "DejaVu Serif", "fontSize": 28, "align": "left", "baseline": "middle"},
          "encoding": {
            "x": {"field": "t", "type": "quantitative", "scale": {"domain": [9730, 9748], "nice": false, "zero": false}, "axis": null},
            "y": {"field": "mag", "type": "quantitative", "scale": {"domain": [13.5, 17.5], "reverse": true, "nice": false, "zero": false}, "axis": null},
            "text": {"field": "tel"},
            "color": {"field": "tel", "type": "nominal", "legend": null}
          }
        }
      ],
      "resolve": {"axis": {"x": "independent", "y": "independent"}}
    },
    {
      "width": 1071,
      "height": 120,
      "layer": [
        {
          "data": {"values": [{}]},
          "mark": {"type": "rule", "color": "#333333", "strokeWidth": 1.5},
          "encoding": {"y": {"datum": 0, "type": "quantitative", "scale": {"domain": [-0.15, 0.15], "nice": false, "zero": false}, "axis": null}}
        },
        {
          "data": {"name": "obs"},
          "transform": [{"filter": "isValid(datum.rA)"}],
          "mark": {"type": "errorbar", "ticks": {"size": 8}, "thickness": 1.5, "clip": true},
          "encoding": {
            "x": {"field": "t", "type": "quantitative", "scale": {"domain": [9730, 9748], "nice": false, "zero": false}, "axis": null},
            "y": {"field": "rA", "type": "quantitative", "scale": {"domain": [-0.15, 0.15], "nice": false, "zero": false}, "axis": null},
            "yError": {"field": "err"},
            "color": {"field": "tel", "type": "nominal", "legend": null},
            "opacity": {"value": 0.6}
          }
        },
        {
          "data": {"name": "obs"},
          "transform": [{"filter": "isValid(datum.rA)"}],
          "mark": {"type": "circle", "size": 68, "opacity": 1, "clip": true},
          "encoding": {
            "x": {"field": "t", "type": "quantitative", "scale": {"domain": [9730, 9748], "nice": false, "zero": false},
              "axis": {"orient": "bottom", "title": null, "labels": false, "values": [9730, 9731, 9732, 9733, 9734, 9735, 9736, 9737, 9738, 9739, 9740, 9741, 9742, 9743, 9744, 9745, 9746, 9747, 9748],
                "tickSize": {"condition": {"test": "datum.value % 5 === 0", "value": -16}, "value": -8}}},
            "y": {"field": "rA", "type": "quantitative", "scale": {"domain": [-0.15, 0.15], "nice": false, "zero": false},
              "axis": {"orient": "left", "title": "Residual", "titlePadding": 14, "format": "~g", "labelPadding": 34,
                "values": [-0.14, -0.12, -0.1, -0.08, -0.06, -0.04, -0.02, 0, 0.02, 0.04, 0.06, 0.08, 0.1, 0.12, 0.14],
                "labelExpr": "abs(datum.value * 10 - round(datum.value * 10)) < 0.01 ? datum.label : ''",
                "tickSize": {"condition": {"test": "abs(datum.value * 10 - round(datum.value * 10)) < 0.01", "value": -18}, "value": -8}}},
            "color": {"field": "tel", "type": "nominal", "legend": null}
          }
        },
        {
          "data": {"values": [{"t": 9730.55, "r": 0.085, "label": "Sol A (χ²= 996.9)"}]},
          "mark": {"type": "text", "font": "DejaVu Serif", "fontSize": 28, "align": "left", "baseline": "middle", "color": "black"},
          "encoding": {
            "x": {"field": "t", "type": "quantitative", "scale": {"domain": [9730, 9748], "nice": false, "zero": false},
              "axis": {"orient": "top", "title": null, "labels": false, "values": [9730, 9731, 9732, 9733, 9734, 9735, 9736, 9737, 9738, 9739, 9740, 9741, 9742, 9743, 9744, 9745, 9746, 9747, 9748],
                "tickSize": {"condition": {"test": "datum.value % 5 === 0", "value": -16}, "value": -8}}},
            "y": {"field": "r", "type": "quantitative", "scale": {"domain": [-0.15, 0.15], "nice": false, "zero": false},
              "axis": {"orient": "right", "title": null, "labels": false,
                "values": [-0.14, -0.12, -0.1, -0.08, -0.06, -0.04, -0.02, 0, 0.02, 0.04, 0.06, 0.08, 0.1, 0.12, 0.14],
                "tickSize": {"condition": {"test": "abs(datum.value * 10 - round(datum.value * 10)) < 0.01", "value": -18}, "value": -8}}},
            "text": {"field": "label"}
          }
        }
      ],
      "resolve": {"axis": {"x": "independent", "y": "independent"}}
    },
    {
      "width": 1071,
      "height": 120,
      "layer": [
        {
          "data": {"values": [{}]},
          "mark": {"type": "rule", "color": "#333333", "strokeWidth": 1.5},
          "encoding": {"y": {"datum": 0, "type": "quantitative", "scale": {"domain": [-0.15, 0.15], "nice": false, "zero": false}, "axis": null}}
        },
        {
          "data": {"name": "obs"},
          "transform": [{"filter": "isValid(datum.rB)"}],
          "mark": {"type": "errorbar", "ticks": {"size": 8}, "thickness": 1.5, "clip": true},
          "encoding": {
            "x": {"field": "t", "type": "quantitative", "scale": {"domain": [9730, 9748], "nice": false, "zero": false}, "axis": null},
            "y": {"field": "rB", "type": "quantitative", "scale": {"domain": [-0.15, 0.15], "nice": false, "zero": false}, "axis": null},
            "yError": {"field": "err"},
            "color": {"field": "tel", "type": "nominal", "legend": null},
            "opacity": {"value": 0.6}
          }
        },
        {
          "data": {"name": "obs"},
          "transform": [{"filter": "isValid(datum.rB)"}],
          "mark": {"type": "circle", "size": 68, "opacity": 1, "clip": true},
          "encoding": {
            "x": {"field": "t", "type": "quantitative", "scale": {"domain": [9730, 9748], "nice": false, "zero": false},
              "axis": {"orient": "bottom", "title": null, "format": "d", "labelPadding": 29, "values": [9730, 9731, 9732, 9733, 9734, 9735, 9736, 9737, 9738, 9739, 9740, 9741, 9742, 9743, 9744, 9745, 9746, 9747, 9748],
                "labelExpr": "datum.value % 5 === 0 ? datum.label : ''",
                "tickSize": {"condition": {"test": "datum.value % 5 === 0", "value": -16}, "value": -8}}},
            "y": {"field": "rB", "type": "quantitative", "scale": {"domain": [-0.15, 0.15], "nice": false, "zero": false},
              "axis": {"orient": "left", "title": "Residual", "titlePadding": 14, "format": "~g", "labelPadding": 34,
                "values": [-0.14, -0.12, -0.1, -0.08, -0.06, -0.04, -0.02, 0, 0.02, 0.04, 0.06, 0.08, 0.1, 0.12, 0.14],
                "labelExpr": "abs(datum.value * 10 - round(datum.value * 10)) < 0.01 ? datum.label : ''",
                "tickSize": {"condition": {"test": "abs(datum.value * 10 - round(datum.value * 10)) < 0.01", "value": -18}, "value": -8}}},
            "color": {"field": "tel", "type": "nominal", "legend": null}
          }
        },
        {
          "data": {"values": [{"t": 9730.55, "r": 0.085, "label": "Sol B (χ²=1184.6)"}]},
          "mark": {"type": "text", "font": "DejaVu Serif", "fontSize": 28, "align": "left", "baseline": "middle", "color": "black"},
          "encoding": {
            "x": {"field": "t", "type": "quantitative", "scale": {"domain": [9730, 9748], "nice": false, "zero": false},
              "axis": {"orient": "top", "title": null, "labels": false, "values": [9730, 9731, 9732, 9733, 9734, 9735, 9736, 9737, 9738, 9739, 9740, 9741, 9742, 9743, 9744, 9745, 9746, 9747, 9748],
                "tickSize": {"condition": {"test": "datum.value % 5 === 0", "value": -16}, "value": -8}}},
            "y": {"field": "r", "type": "quantitative", "scale": {"domain": [-0.15, 0.15], "nice": false, "zero": false},
              "axis": {"orient": "right", "title": null, "labels": false,
                "values": [-0.14, -0.12, -0.1, -0.08, -0.06, -0.04, -0.02, 0, 0.02, 0.04, 0.06, 0.08, 0.1, 0.12, 0.14],
                "tickSize": {"condition": {"test": "abs(datum.value * 10 - round(datum.value * 10)) < 0.01", "value": -18}, "value": -8}}},
            "text": {"field": "label"}
          }
        }
      ],
      "resolve": {"axis": {"x": "independent", "y": "independent"}}
    },
    {
      "width": 1071,
      "height": 25,
      "data": {"values": []},
      "mark": {"type": "point", "opacity": 0},
      "view": {"stroke": null}
    },
    {
      "width": 1071,
      "height": 385,
      "layer": [
        {
          "data": {"name": "obs"},
          "mark": {"type": "errorbar", "ticks": {"size": 8}, "thickness": 1.5, "clip": true},
          "encoding": {
            "x": {"field": "t", "type": "quantitative", "scale": {"domain": [9685, 9799], "nice": false, "zero": false}, "axis": null},
            "y": {"field": "mag", "type": "quantitative", "scale": {"domain": [13.814, 18.291], "reverse": true, "nice": false, "zero": false}, "axis": null},
            "yError": {"field": "err"},
            "color": {"field": "tel", "type": "nominal", "legend": null},
            "opacity": {"value": 0.6}
          }
        },
        {
          "data": {"name": "obs"},
          "mark": {"type": "circle", "size": 68, "opacity": 1, "clip": true},
          "encoding": {
            "x": {"field": "t", "type": "quantitative", "scale": {"domain": [9685, 9799], "nice": false, "zero": false},
              "axis": {"orient": "bottom", "title": "HJD−2400000", "titlePadding": -5, "format": "d", "labelPadding": 31,
                "values": [9690, 9695, 9700, 9705, 9710, 9715, 9720, 9725, 9730, 9735, 9740, 9745, 9750, 9755, 9760, 9765, 9770, 9775, 9780, 9785, 9790, 9795],
                "labelExpr": "datum.value % 20 === 0 ? datum.label : ''",
                "tickSize": {"condition": {"test": "datum.value % 20 === 0", "value": -18}, "value": -8}}},
            "y": {"field": "mag", "type": "quantitative", "scale": {"domain": [13.814, 18.291], "reverse": true, "nice": false, "zero": false},
              "axis": {"orient": "left", "title": "Magnitude", "titlePadding": 17, "format": "~g", "labelPadding": 34,
                "values": [14, 14.2, 14.4, 14.6, 14.8, 15, 15.2, 15.4, 15.6, 15.8, 16, 16.2, 16.4, 16.6, 16.8, 17, 17.2, 17.4, 17.6, 17.8, 18, 18.2],
                "labelExpr": "abs(datum.value - round(datum.value)) < 0.01 ? datum.label : ''",
                "tickSize": {"condition": {"test": "abs(datum.value - round(datum.value)) < 0.01", "value": -18}, "value": -8}}},
            "color": {"field": "tel", "type": "nominal", "legend": null}
          }
        },
        {
          "data": {"name": "models"},
          "transform": [{"fold": ["a", "b", "p"], "as": ["model", "mag"]}, {"filter": "isValid(datum.mag)"}],
          "mark": {"type": "line", "color": "black", "strokeWidth": 1.5, "clip": true},
          "encoding": {
            "x": {"field": "t", "type": "quantitative", "scale": {"domain": [9685, 9799], "nice": false, "zero": false},
              "axis": {"orient": "top", "title": null, "labels": false,
                "values": [9690, 9695, 9700, 9705, 9710, 9715, 9720, 9725, 9730, 9735, 9740, 9745, 9750, 9755, 9760, 9765, 9770, 9775, 9780, 9785, 9790, 9795],
                "tickSize": {"condition": {"test": "datum.value % 20 === 0", "value": -18}, "value": -8}}},
            "y": {"field": "mag", "type": "quantitative", "scale": {"domain": [13.814, 18.291], "reverse": true, "nice": false, "zero": false},
              "axis": {"orient": "right", "title": null, "labels": false,
                "values": [14, 14.2, 14.4, 14.6, 14.8, 15, 15.2, 15.4, 15.6, 15.8, 16, 16.2, 16.4, 16.6, 16.8, 17, 17.2, 17.4, 17.6, 17.8, 18, 18.2],
                "tickSize": {"condition": {"test": "abs(datum.value - round(datum.value)) < 0.01", "value": -18}, "value": -8}}},
            "strokeDash": {"field": "model", "type": "nominal", "scale": {"domain": ["a", "b", "p"], "range": [[1, 0], [1.5, 4], [14, 8]]}, "legend": null}
          }
        },
        {
          "data": {"values": [
            {"t": 9690.64, "mag": 14.70, "model": "a"},
            {"t": 9706.62, "mag": 14.70, "model": "a"},
            {"t": 9690.64, "mag": 15.38, "model": "b"},
            {"t": 9706.62, "mag": 15.38, "model": "b"},
            {"t": 9690.64, "mag": 16.05, "model": "p"},
            {"t": 9706.62, "mag": 16.05, "model": "p"}
          ]},
          "mark": {"type": "line", "color": "black", "strokeWidth": 1.5},
          "encoding": {
            "x": {"field": "t", "type": "quantitative", "scale": {"domain": [9685, 9799], "nice": false, "zero": false}, "axis": null},
            "y": {"field": "mag", "type": "quantitative", "scale": {"domain": [13.814, 18.291], "reverse": true, "nice": false, "zero": false}, "axis": null},
            "strokeDash": {"field": "model", "type": "nominal", "legend": null}
          }
        },
        {
          "data": {"values": [
            {"t": 9707.8, "mag": 14.70, "label": "Sol A"},
            {"t": 9707.8, "mag": 15.38, "label": "Sol B"},
            {"t": 9707.8, "mag": 16.05, "label": "1L1S"}
          ]},
          "mark": {"type": "text", "font": "DejaVu Serif", "fontSize": 24, "align": "left", "baseline": "middle", "color": "black"},
          "encoding": {
            "x": {"field": "t", "type": "quantitative", "scale": {"domain": [9685, 9799], "nice": false, "zero": false}, "axis": null},
            "y": {"field": "mag", "type": "quantitative", "scale": {"domain": [13.814, 18.291], "reverse": true, "nice": false, "zero": false}, "axis": null},
            "text": {"field": "label"}
          }
        }
      ],
      "resolve": {"axis": {"x": "independent", "y": "independent"}}
    }
  ],
  "config": {
    "font": "DejaVu Serif",
    "view": {"stroke": "#222222", "strokeWidth": 1.5},
    "axis": {
      "domain": false,
      "grid": false,
      "labelFont": "DejaVu Serif",
      "labelFontSize": 24,
      "labelColor": "black",
      "labelFlush": false,
      "labelOverlap": false,
      "titleFont": "DejaVu Serif",
      "titleFontSize": 26,
      "titleFontWeight": "normal",
      "titleColor": "black",
      "tickColor": "#222222",
      "tickWidth": 1.4
    }
  }
}
